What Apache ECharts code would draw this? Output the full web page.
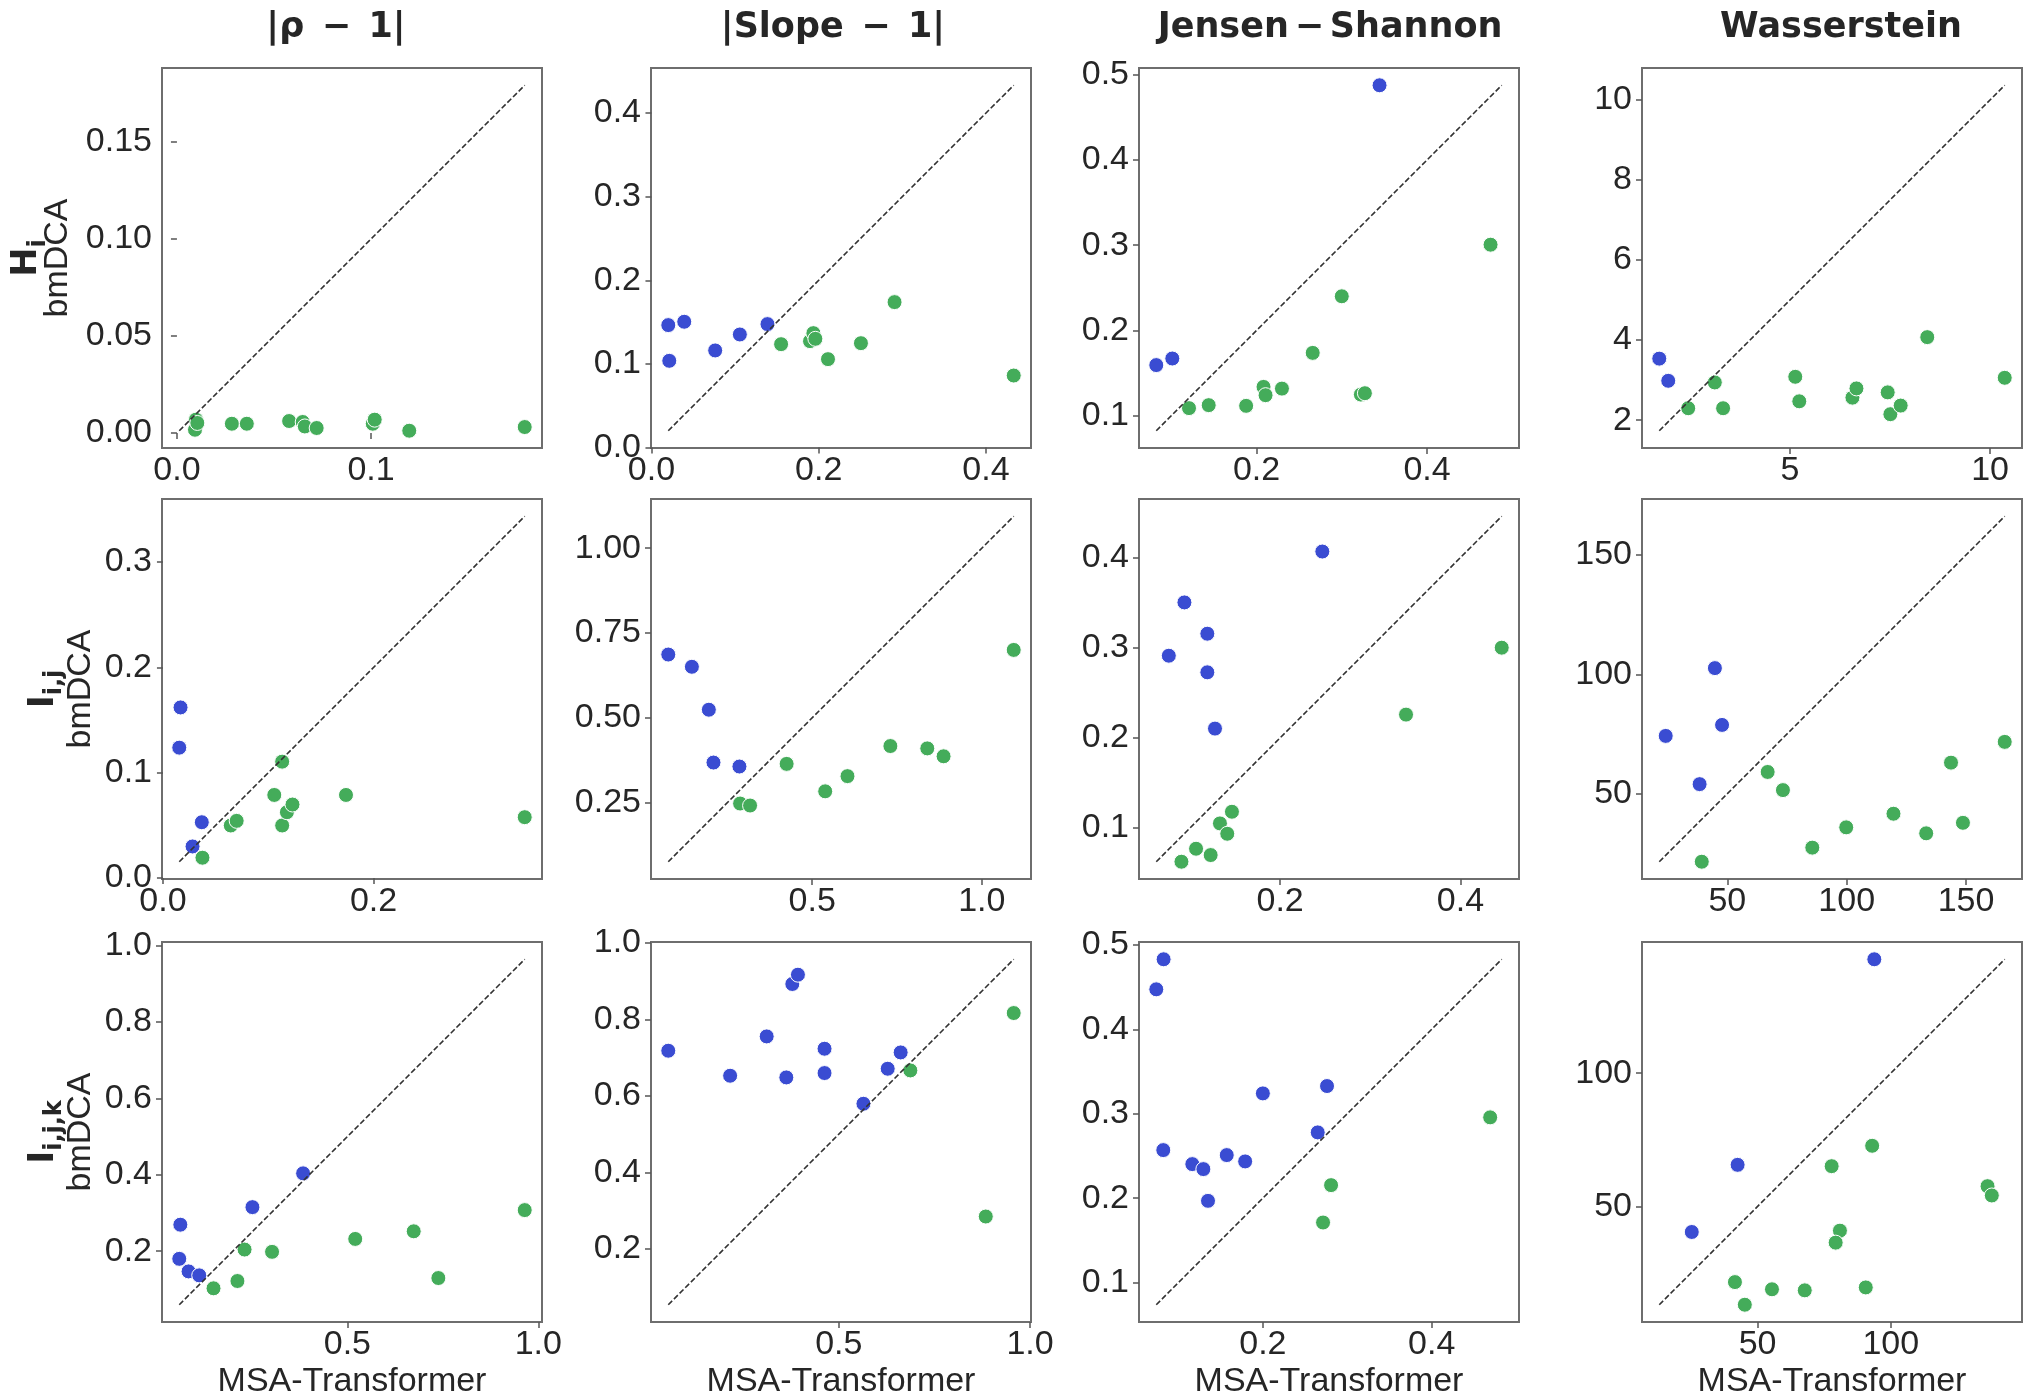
<!DOCTYPE html>
<html>
<head>
<meta charset="utf-8">
<script src="https://cdn.jsdelivr.net/npm/echarts@6/dist/echarts.min.js"></script>
<style>
  html, body { margin: 0; padding: 0; background: #ffffff; }
  #chart { width: 2036px; height: 1400px; }
</style>
</head>
<body>
<div id="chart"></div>
<script>
// Column titles (metrics) and row labels (statistics)
const metricTitles = ['|ρ\u2002−\u20021|', '|Slope\u2002−\u20021|', 'Jensen\u2006−\u2006Shannon', 'Wasserstein'];
const statBase = ['H', 'I', 'I'];
const statSub = ['i', 'i,j', 'i,j,k'];
const xAxisTitle = 'MSA-Transformer';
const yAxisTitle = 'bmDCA';

// Each pair: [MSA-Transformer score, bmDCA score] for one protein family
const hiRho = [[0.0098,0.0069],[0.0093,0.0017],[0.0105,0.0052],[0.0283,0.0048],[0.0360,0.0048],[0.0578,0.0062],[0.0648,0.0057],[0.0659,0.0034],[0.0720,0.0026],[0.1009,0.0048],[0.1019,0.0069],[0.1197,0.0012],[0.1792,0.0031]];
const hiSlope = [[0.0201,0.1464],[0.0392,0.1504],[0.0213,0.1037],[0.0762,0.1161],[0.1057,0.1352],[0.1387,0.1476],[0.1550,0.1236],[0.1896,0.1272],[0.1936,0.1368],[0.1960,0.1300],[0.2111,0.1057],[0.2505,0.1248],[0.2907,0.1739],[0.4332,0.0861]];
const hiJS = [[0.0824,0.1594],[0.1012,0.1671],[0.3443,0.4876],[0.1208,0.1089],[0.1439,0.1124],[0.1878,0.1116],[0.2082,0.1338],[0.2106,0.1241],[0.2298,0.1318],[0.2659,0.1737],[0.3000,0.2401],[0.3224,0.1248],[0.3271,0.1264],[0.4745,0.3006]];
const hiW = [[1.736,3.537],[1.960,2.983],[2.459,2.298],[3.123,2.942],[3.330,2.298],[5.133,3.083],[5.233,2.471],[6.561,2.562],[6.661,2.793],[7.442,2.694],[7.508,2.149],[7.766,2.364],[8.430,4.074],[10.365,3.058]];
const ijRho = [[0.0167,0.1620],[0.0155,0.1238],[0.0369,0.0530],[0.0281,0.0300],[0.0375,0.0193],[0.0644,0.0499],[0.0700,0.0543],[0.1057,0.0789],[0.1132,0.1105],[0.1132,0.0499],[0.1177,0.0625],[0.1230,0.0698],[0.1738,0.0789],[0.3435,0.0578]];
const ijSlope = [[0.0755,0.6864],[0.1451,0.6503],[0.1951,0.5237],[0.2088,0.3679],[0.2853,0.3562],[0.2873,0.2471],[0.3167,0.2412],[0.4245,0.3640],[0.5382,0.2831],[0.6039,0.3279],[0.7304,0.4166],[0.8392,0.4097],[0.8873,0.3864],[1.0941,0.7000]];
const ijJS = [[0.2468,0.4066],[0.0939,0.3502],[0.1193,0.3155],[0.0766,0.2911],[0.1193,0.2727],[0.1278,0.2103],[0.0906,0.0627],[0.1068,0.0771],[0.1230,0.0701],[0.1333,0.1052],[0.1414,0.0937],[0.1466,0.1181],[0.3396,0.2258],[0.4457,0.3000]];
const ijW = [[24.2,74.2],[44.8,102.6],[47.8,78.8],[38.4,54.0],[39.3,21.5],[66.9,59.1],[73.3,51.5],[85.6,27.4],[99.8,35.9],[119.6,41.6],[133.3,33.4],[143.7,63.0],[148.7,37.8],[166.2,71.7]];
const ijkRho = [[0.0626,0.2694],[0.0598,0.1800],[0.0841,0.1471],[0.1121,0.1367],[0.3841,0.4039],[0.2514,0.3154],[0.1495,0.1028],[0.2121,0.1219],[0.2308,0.2043],[0.3028,0.1983],[0.5206,0.2321],[0.6738,0.2521],[0.7383,0.1297],[0.9645,0.3076]];
const ijkSlope = [[0.0539,0.7182],[0.2157,0.6528],[0.3113,0.7557],[0.3626,0.6484],[0.3783,0.8927],[0.3930,0.9171],[0.4626,0.7234],[0.4626,0.6598],[0.5643,0.5795],[0.6278,0.6711],[0.6617,0.7138],[0.6870,0.6667],[0.9574,0.8168],[0.8843,0.2846]];
const ijkJS = [[0.0737,0.4474],[0.0824,0.4830],[0.0820,0.2569],[0.1164,0.2403],[0.1295,0.2344],[0.1350,0.1968],[0.1572,0.2510],[0.1790,0.2435],[0.2000,0.3241],[0.2650,0.2779],[0.2760,0.3328],[0.2713,0.1711],[0.2808,0.2154],[0.4693,0.2957]];
const ijkW = [[93.8,142.75],[42.5,65.6],[25.3,40.4],[93.0,72.75],[77.8,65.1],[80.9,40.9],[79.3,36.4],[136.3,57.6],[137.9,54.1],[41.5,21.6],[45.2,13.1],[55.4,18.9],[67.7,18.5],[90.6,19.6]];

// Tick labels for each panel (row-major order)
const xTickLabels = [
  ['0.0','0.1'], ['0.0','0.2','0.4'], ['0.2','0.4'], ['5','10'],
  ['0.0','0.2'], ['0.5','1.0'], ['0.2','0.4'], ['50','100','150'],
  ['0.5','1.0'], ['0.5','1.0'], ['0.2','0.4'], ['50','100']
];
const yTickLabels = [
  ['0.00','0.05','0.10','0.15'], ['0.0','0.1','0.2','0.3','0.4'], ['0.1','0.2','0.3','0.4','0.5'], ['2','4','6','8','10'],
  ['0.0','0.1','0.2','0.3'], ['0.25','0.50','0.75','1.00'], ['0.1','0.2','0.3','0.4'], ['50','100','150'],
  ['0.2','0.4','0.6','0.8','1.0'], ['0.2','0.4','0.6','0.8','1.0'], ['0.1','0.2','0.3','0.4','0.5'], ['50','100']
];

const panels = [hiRho, hiSlope, hiJS, hiW, ijRho, ijSlope, ijJS, ijW, ijkRho, ijkSlope, ijkJS, ijkW];

// Layout of the 3x4 grid of square panels
const colLeft = [162, 651, 1139, 1642];
const rowTop = [68, 499, 942];
const SIZE = 380;
const titleCenter = [336, 833, 1330, 1841];
const rowSymbolBaseX = [37.5, 54, 54];   // screen x of the rotated symbol's baseline
const rowNameX = [58, 81, 81];

const BLUE = '#3a4cd2';
const GREEN = '#44ac5a';
const TEXT = '#262626';
const SANS = '"Liberation Sans", Arial, Helvetica, sans-serif';
const BOLD = '"DejaVu Sans", sans-serif';
const TICK_FONT = 34;
const SYM_FONT = 35;
const SUB_FONT = 24;

function labelFor(list, v) {
  const s = list.find(t => Math.abs(Number(t) - v) < 1e-9);
  return s === undefined ? '' : s;
}

const measureCtx = document.createElement('canvas').getContext('2d');
function textWidth(str, size) {
  measureCtx.font = 'bold ' + size + 'px ' + BOLD;
  return measureCtx.measureText(str).width;
}

const grids = [], xAxes = [], yAxes = [], series = [];

panels.forEach((pts, k) => {
  const r = Math.floor(k / 4), c = k % 4;
  const all = pts.flat();
  const lo = Math.min(...all), hi = Math.max(...all);
  const pad = 0.05 * (hi - lo);
  const xt = xTickLabels[k], yt = yTickLabels[k];

  grids.push({
    left: colLeft[c], top: rowTop[r], width: SIZE, height: SIZE,
    show: true, borderColor: '#6e6e6e', borderWidth: 2, backgroundColor: 'transparent'
  });

  const tickStyle = { show: true, length: 6, lineStyle: { color: '#555', width: 1.5 } };

  xAxes.push({
    gridIndex: k, type: 'value', min: lo - pad, max: hi + pad,
    axisLine: { show: false }, splitLine: { show: false },
    axisTick: Object.assign({ customValues: xt.map(Number) }, tickStyle),
    axisLabel: {
      customValues: xt.map(Number), formatter: v => labelFor(xt, v),
      fontSize: TICK_FONT, color: TEXT, fontFamily: SANS, margin: 6
    },
    name: r === 2 ? xAxisTitle : '', nameLocation: 'middle', nameGap: 43,
    nameTextStyle: { fontSize: TICK_FONT, color: TEXT, fontFamily: SANS }
  });

  yAxes.push({
    gridIndex: k, type: 'value', min: lo - pad, max: hi + pad,
    axisLine: { show: false }, splitLine: { show: false },
    axisTick: Object.assign({ customValues: yt.map(Number) }, tickStyle),
    axisLabel: {
      customValues: yt.map(Number), formatter: v => labelFor(yt, v),
      fontSize: TICK_FONT, color: TEXT, fontFamily: SANS, margin: 10
    }
  });

  // Points where bmDCA scores lower (better) than MSA-Transformer, and the rest
  const bmdcaBetter = pts.filter(p => p[1] <= p[0]);
  const msaBetter = pts.filter(p => p[1] > p[0]);

  series.push({
    type: 'scatter', xAxisIndex: k, yAxisIndex: k, data: bmdcaBetter,
    symbolSize: 15, z: 2,
    itemStyle: { color: GREEN, borderColor: '#ffffff', borderWidth: 1, opacity: 1 }
  });
  series.push({
    type: 'scatter', xAxisIndex: k, yAxisIndex: k, data: msaBetter,
    symbolSize: 15, z: 2,
    itemStyle: { color: BLUE, borderColor: '#ffffff', borderWidth: 1, opacity: 1 }
  });
  // Identity line y = x across the data range
  series.push({
    type: 'line', xAxisIndex: k, yAxisIndex: k, data: [[lo, lo], [hi, hi]],
    symbol: 'none', silent: true, z: 3,
    lineStyle: { color: '#333333', width: 1.6, type: [5.5, 2.5] }
  });
});

// Column titles
const titles = metricTitles.map((t, c) => ({
  text: t, left: titleCenter[c], top: 10, textAlign: 'center', padding: 0,
  textStyle: { fontFamily: BOLD, fontWeight: 'bold', fontSize: 35, color: TEXT }
}));

// Row labels, rotated to read bottom-to-top: bold symbol, lowered subscript, model name
const graphics = [];
rowTop.forEach((top, r) => {
  const cy = top + SIZE / 2;
  const wMain = textWidth(statBase[r], SYM_FONT);
  const wSub = textWidth(statSub[r], SUB_FONT);
  const total = wMain + wSub;
  const mainY = cy + total / 2 - wMain / 2;
  const subY = cy + total / 2 - wMain - wSub / 2;
  const base = rowSymbolBaseX[r];

  graphics.push({
    type: 'text', x: base - 0.3 * SYM_FONT, y: mainY, rotation: Math.PI / 2,
    style: {
      text: statBase[r], align: 'center', verticalAlign: 'middle',
      fontFamily: BOLD, fontWeight: 'bold', fontSize: SYM_FONT, fill: TEXT
    }
  });
  graphics.push({
    type: 'text', x: base + 1, y: subY, rotation: Math.PI / 2,
    style: {
      text: statSub[r], align: 'center', verticalAlign: 'middle',
      fontFamily: BOLD, fontWeight: 'bold', fontSize: SUB_FONT, fill: TEXT
    }
  });
  graphics.push({
    type: 'text', x: rowNameX[r], y: cy, rotation: Math.PI / 2,
    style: {
      text: yAxisTitle, align: 'center', verticalAlign: 'middle',
      fontFamily: SANS, fontSize: TICK_FONT, fill: TEXT
    }
  });
});

const chart = echarts.init(document.getElementById('chart'), null, { renderer: 'canvas' });
chart.setOption({
  backgroundColor: '#ffffff',
  animation: false,
  title: titles,
  grid: grids,
  xAxis: xAxes,
  yAxis: yAxes,
  series: series,
  graphic: graphics
});
</script>
</body>
</html>
